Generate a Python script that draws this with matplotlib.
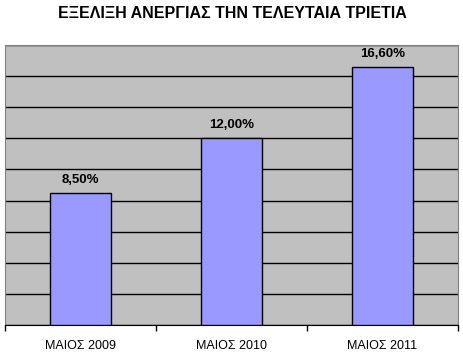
import matplotlib
matplotlib.use("Agg")
import matplotlib.pyplot as plt

categories = ["ΜΑΙΟΣ 2009", "ΜΑΙΟΣ 2010", "ΜΑΙΟΣ 2011"]
values = [8.5, 12.0, 16.6]
labels = ["8,50%", "12,00%", "16,60%"]

plt.rcParams["font.family"] = ["Liberation Sans", "DejaVu Sans"]

fig = plt.figure(figsize=(4.64, 3.58), dpi=100)
ax = fig.add_axes([5 / 464, 1 - 325 / 358, 453 / 464, 280 / 358])
ax.set_facecolor("#c0c0c0")

x = list(range(len(categories)))
ax.bar(x, values, width=0.4, color="#9999ff", edgecolor="black", linewidth=1, zorder=3)
for xi, v, lab in zip(x, values, labels):
    ax.text(xi, v + 0.45, lab, ha="center", va="bottom", fontsize=9.5, fontweight="bold", zorder=4)

ax.set_xlim(-0.5, 2.5)
ax.set_ylim(0, 18)
ax.set_yticks(range(0, 19, 2))
ax.yaxis.grid(True, color="black", linewidth=1, zorder=1)
ax.tick_params(axis="y", left=False, labelleft=False)
ax.set_xticks(x)
ax.set_xticklabels(categories, fontsize=9)
ax.tick_params(axis="x", length=0, pad=11)
ax.set_xticks([-0.5, 0.5, 1.5, 2.5], minor=True)
ax.tick_params(axis="x", which="minor", length=4, color="black", width=1)

for side in ["top", "left", "right"]:
    ax.spines[side].set_color("#808080")
ax.spines["bottom"].set_color("black")

fig.text(0.5, 1 - 14 / 358, "ΕΞΕΛΙΞΗ ΑΝΕΡΓΙΑΣ ΤΗΝ ΤΕΛΕΥΤΑΙΑ ΤΡΙΕΤΙΑ",
         ha="center", va="center", fontsize=11.5, fontweight="bold")

fig.savefig("out.png", dpi=100)
